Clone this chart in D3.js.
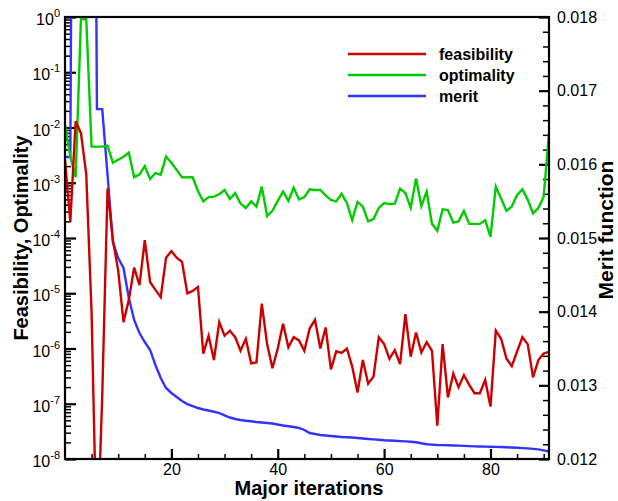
<!DOCTYPE html>
<html>
<head>
<meta charset="utf-8">
<script src="https://cdn.jsdelivr.net/npm/d3@7"></script>
<style>
  body { margin: 0; background: #fff; }
  text { font-family: "Liberation Sans", Arial, Helvetica, sans-serif; }
</style>
</head>
<body>
<div id="chart"></div>
<script>
// data (iteration 0..91)
var iterations = d3.range(0, 92);

var feasibility = [
  2.6e-3, 1.95e-4, 1.3e-2, 7.9e-3, 1.4e-3, 4.4e-6, 1.8e-10, 1.4e-7, 7.9e-4, 9.1e-5,
  2.6e-5, 3.0e-6, 7.6e-6, 2.9e-5, 1.4e-5, 9.1e-5, 1.6e-5, 1.15e-5, 8.5e-6, 4.4e-5,
  5.8e-5, 4.4e-5, 3.7e-5, 1.0e-5, 1.1e-5, 1.3e-5, 8.1e-7, 1.7e-6, 6.2e-7, 3.0e-6,
  1.7e-6, 2.1e-6, 1.6e-6, 9.1e-7, 1.5e-6, 5.4e-7, 5.6e-7, 6.5e-6, 1.2e-6, 4.4e-7,
  1.0e-6, 2.8e-6, 1.05e-6, 1.6e-6, 1.4e-6, 9.1e-7, 2.3e-6, 3.3e-6, 1.0e-6, 2.4e-6,
  4.2e-7, 8.9e-7, 8.3e-7, 1.0e-6, 4.7e-7, 1.6e-7, 6.2e-7, 2.3e-7, 3.1e-7, 1.6e-6,
  1.2e-6, 6.5e-7, 9.3e-7, 5.2e-7, 4.2e-6, 7.1e-7, 1.95e-6, 8.5e-7, 1.3e-6, 9.1e-7,
  4.0e-8, 1.2e-6, 1.3e-7, 3.5e-7, 2.0e-7, 3.3e-7, 2.2e-7, 1.55e-7, 1.55e-7, 2.7e-7,
  8.9e-8, 2.1e-6, 1.5e-6, 6.6e-7, 4.8e-7, 8.9e-7, 1.6e-6, 1.2e-6, 3.0e-7, 6.2e-7,
  8.1e-7, 8.7e-7
];

var optimality = [
  1.1e-2, 2.95e-3, 1.26e-3, 0.91, 0.91, 4.5e-3, 4.5e-3, 4.5e-3, 4.7e-3, 2.3e-3,
  2.6e-3, 2.95e-3, 3.5e-3, 1.26e-3, 1.4e-3, 2.0e-3, 1.17e-3, 1.5e-3, 1.4e-3, 3.0e-3,
  2.3e-3, 1.7e-3, 1.26e-3, 1.26e-3, 1.26e-3, 7.1e-4, 4.6e-4, 5.5e-4, 5.6e-4, 6.2e-4,
  7.4e-4, 5.1e-4, 6.5e-4, 4.2e-4, 3.5e-4, 4.6e-4, 3.7e-4, 8.5e-4, 2.5e-4, 3.1e-4,
  4.7e-4, 6.9e-4, 4.7e-4, 8.1e-4, 5.0e-4, 5.5e-4, 7.6e-4, 7.4e-4, 7.4e-4, 5.9e-4,
  4.9e-4, 4.6e-4, 6.3e-4, 4.3e-4, 2.1e-4, 4.5e-4, 3.7e-4, 2.0e-4, 2.2e-4, 3.5e-4,
  4.3e-4, 4.1e-4, 4.2e-4, 7.8e-4, 6.5e-4, 3.5e-4, 1.2e-3, 3.8e-4, 6.9e-4, 1.8e-4,
  1.35e-4, 3.3e-4, 3.2e-4, 1.9e-4, 2.0e-4, 3.1e-4, 1.8e-4, 1.8e-4, 1.8e-4, 2.1e-4,
  1.05e-4, 8.5e-4, 5.2e-4, 3.1e-4, 3.7e-4, 6.0e-4, 7.6e-4, 4.9e-4, 2.8e-4, 3.5e-4,
  5.6e-4, 7.9e-3
];

var merit = [
  0.01610, 0.01610, 0.0300, 0.0300, 0.0300, 0.0300, 0.01675, 0.01675, 0.015855, 0.014946,
  0.014728, 0.014593, 0.014185, 0.013887, 0.013710, 0.013588, 0.013480, 0.013276, 0.013100, 0.012964,
  0.012896, 0.012841, 0.012787, 0.012746, 0.012719, 0.012692, 0.012672, 0.012658, 0.012642, 0.012624,
  0.012591, 0.012563, 0.012543, 0.012529, 0.012520, 0.012512, 0.012502, 0.012495, 0.012489, 0.012482,
  0.012468, 0.012455, 0.012444, 0.012434, 0.012421, 0.012394, 0.012353, 0.012339, 0.012326, 0.012319,
  0.012312, 0.012305, 0.012299, 0.012295, 0.012291, 0.012285, 0.012278, 0.012272, 0.012266, 0.012261,
  0.012255, 0.012251, 0.012247, 0.012243, 0.012239, 0.012235, 0.012228, 0.012214, 0.012200, 0.012195,
  0.012191, 0.012189, 0.012186, 0.012183, 0.012181, 0.012178, 0.012175, 0.012172, 0.012170, 0.012168,
  0.012167, 0.012164, 0.012162, 0.012159, 0.012156, 0.012152, 0.012148, 0.012144, 0.012138, 0.012130,
  0.012117, 0.012102
];

var decades = [1e-8, 1e-7, 1e-6, 1e-5, 1e-4, 1e-3, 1e-2, 1e-1, 1];
var decadeExp = [-8, -7, -6, -5, -4, -3, -2, -1, 0];
var meritTicks = [0.012, 0.013, 0.014, 0.015, 0.016, 0.017, 0.018];
var iterTicks = [20, 40, 60, 80];

var seriesNames = ["feasibility", "optimality", "merit"];
var seriesColors = ["#cc0000", "#00cc00", "#3333ff"];

// set the dimensions and margins of the graph
var margin = {top: 17, right: 69, bottom: 42, left: 65},
    width = 618 - margin.left - margin.right,
    height = 501 - margin.top - margin.bottom;

var svgRoot = d3.select("#chart")
  .append("svg")
    .attr("width", 618)
    .attr("height", 501);

var svg = svgRoot.append("g")
    .attr("transform", "translate(" + margin.left + "," + margin.top + ")");

var x = d3.scaleLinear().domain([0, 91]).range([0, width]);
var yL = d3.scaleLog().domain([1e-8, 1]).range([height, 0]);
var yR = d3.scaleLinear().domain([0.012, 0.018]).range([height, 0]);

svg.append("clipPath").attr("id", "clip")
  .append("rect").attr("width", width).attr("height", height);

// minor tick values
var logMinor = [];
decades.slice(0, 8).forEach(function(d) {
  for (var k = 2; k <= 9; k++) logMinor.push(d * k);
});
var xMinor = d3.range(5, 91, 5).filter(function(v) { return v % 20 != 0; });
var rMinor = d3.range(0, 31).map(function(i) { return 0.012 + i * 0.0002; })
  .filter(function(v, i) { return i % 5 != 0; });

function cleanAxis(g, w) {
  g.select(".domain").remove();
  g.selectAll(".tick line").attr("stroke", "#000").attr("stroke-width", w);
}

// left axis
svg.append("g")
  .call(d3.axisLeft(yL).tickValues(logMinor).tickSize(-6).tickFormat(""))
  .call(cleanAxis, 1.5);
svg.append("g")
  .call(d3.axisLeft(yL).tickValues(decades).tickSize(-11).tickFormat(""))
  .call(cleanAxis, 2.2);

var leftLabels = svg.append("g").selectAll("text")
  .data(decades)
  .enter().append("text")
    .attr("x", -5)
    .attr("y", function(d) { return yL(d) + 8; })
    .attr("text-anchor", "end")
    .style("font-size", "16px")
    .attr("fill", "#000");
leftLabels.append("tspan").text("10");
leftLabels.append("tspan")
    .attr("dy", -8)
    .style("font-size", "11px")
    .text(function(d, i) { return decadeExp[i]; });

// bottom axis
svg.append("g")
  .attr("transform", "translate(0," + height + ")")
  .call(d3.axisBottom(x).tickValues(xMinor).tickSize(-5).tickFormat(""))
  .call(cleanAxis, 1.5);
svg.append("g")
  .attr("transform", "translate(0," + height + ")")
  .call(d3.axisBottom(x).tickValues(iterTicks).tickSize(-10).tickPadding(5))
  .call(cleanAxis, 2.2)
  .selectAll("text")
    .style("font-size", "16px")
    .style("font-family", "'Liberation Sans', Arial, sans-serif")
    .attr("fill", "#000");

// right axis
svg.append("g")
  .attr("transform", "translate(" + width + ",0)")
  .call(d3.axisRight(yR).tickValues(rMinor).tickSize(-6).tickFormat(""))
  .call(cleanAxis, 1.5);
svg.append("g")
  .attr("transform", "translate(" + width + ",0)")
  .call(d3.axisRight(yR).tickValues(meritTicks).tickSize(-10).tickPadding(8).tickFormat(d3.format(".3f")))
  .call(cleanAxis, 2.2)
  .selectAll("text")
    .style("font-size", "16px")
    .style("font-family", "'Liberation Sans', Arial, sans-serif")
    .attr("fill", "#000");

// lines
var lineL = function(vals) {
  return d3.line()
    .x(function(d, i) { return x(iterations[i]); })
    .y(function(d) { return yL(d); })(vals);
};
var lineR = d3.line()
  .x(function(d, i) { return x(iterations[i]); })
  .y(function(d) { return yR(d); });

var plot = svg.append("g").attr("clip-path", "url(#clip)");
plot.append("path")
  .attr("d", lineR(merit))
  .attr("fill", "none").attr("stroke", seriesColors[2]).attr("stroke-width", 2.4);
plot.append("path")
  .attr("d", lineL(optimality))
  .attr("fill", "none").attr("stroke", seriesColors[1]).attr("stroke-width", 2.4);
plot.append("path")
  .attr("d", lineL(feasibility))
  .attr("fill", "none").attr("stroke", seriesColors[0]).attr("stroke-width", 2.4);

// frame
svg.append("rect")
  .attr("width", width).attr("height", height)
  .attr("fill", "none").attr("stroke", "#000").attr("stroke-width", 2.2);

// legend
var legend = svg.append("g").attr("transform", "translate(283,37)");
legend.selectAll("line")
  .data(seriesNames)
  .enter().append("line")
    .attr("x1", 0).attr("x2", 78)
    .attr("y1", function(d, i) { return i * 21; })
    .attr("y2", function(d, i) { return i * 21; })
    .attr("stroke", function(d, i) { return seriesColors[i]; })
    .attr("stroke-width", 2.4);
legend.selectAll("text")
  .data(seriesNames)
  .enter().append("text")
    .attr("x", 91)
    .attr("y", function(d, i) { return i * 21 + 6; })
    .style("font-size", "16px")
    .style("font-weight", "bold")
    .text(function(d) { return d; });

// axis titles
svgRoot.append("text")
  .attr("x", margin.left + width / 2 + 2)
  .attr("y", 495)
  .attr("text-anchor", "middle")
  .style("font-size", "20px")
  .style("font-weight", "bold")
  .text("Major iterations");

svgRoot.append("text")
  .attr("transform", "translate(28," + (margin.top + height / 2) + ") rotate(-90)")
  .attr("text-anchor", "middle")
  .style("font-size", "20px")
  .style("font-weight", "bold")
  .text("Feasibility, Optimality");

svgRoot.append("text")
  .attr("transform", "translate(613," + (margin.top + height / 2 - 8) + ") rotate(-90)")
  .attr("text-anchor", "middle")
  .style("font-size", "21px")
  .style("font-weight", "bold")
  .text("Merit function");
</script>
</body>
</html>
